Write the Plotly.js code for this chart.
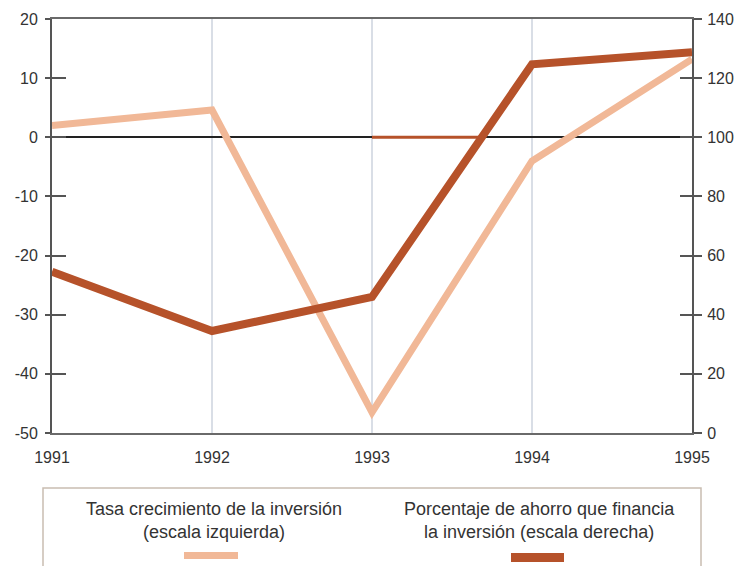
<!DOCTYPE html>
<html>
<head>
<meta charset="utf-8">
<script src="https://cdn.plot.ly/plotly-3.0.1.min.js"></script>
<style>
  html, body { margin: 0; padding: 0; background: #ffffff; }
  #chart { width: 739px; height: 566px; }
</style>
</head>
<body>
<div id="chart"></div>
<script>
// Years on the horizontal axis
const years = [1991, 1992, 1993, 1994, 1995];

// Investment growth rate (%, left scale)
const tasaInversion = [2, 4.6, -46.5, -4, 13.2];

// Share of investment financed by savings (%, right scale)
const ahorroFinancia = [54.5, 34.5, 46, 124.7, 128.8];

// Axis tick values and labels (plain hyphen for negatives)
const leftTicks = [-50, -40, -30, -20, -10, 0, 10, 20];
const leftTickText = ['-50', '-40', '-30', '-20', '-10', '0', '10', '20'];
const rightTicks = [0, 20, 40, 60, 80, 100, 120, 140];
const yearLabels = ['1991', '1992', '1993', '1994', '1995'];

const serieLabels = [
  'Tasa crecimiento de la inversión<br>(escala izquierda)',
  'Porcentaje de ahorro que financia<br>la inversión (escala derecha)'
];

const colorClaro = '#f1b897';
const colorOscuro = '#b6522a';
const axisColor = '#555555';
const textColor = '#333333';
const font = 'Liberation Sans, Arial, Helvetica, sans-serif';

const traces = [
  {
    x: years, y: tasaInversion, yaxis: 'y', type: 'scatter', mode: 'lines',
    line: { color: colorClaro, width: 7 }, showlegend: false, hoverinfo: 'skip'
  },
  {
    x: years, y: ahorroFinancia, yaxis: 'y2', type: 'scatter', mode: 'lines',
    line: { color: colorOscuro, width: 8 }, showlegend: false, hoverinfo: 'skip'
  },
  // empty traces so the inner-tick axes get drawn
  { x: [], y: [], yaxis: 'y3', type: 'scatter', mode: 'lines', showlegend: false, hoverinfo: 'skip' },
  { x: [], y: [], yaxis: 'y4', type: 'scatter', mode: 'lines', showlegend: false, hoverinfo: 'skip' }
];

// Point where the savings line crosses 100 (drawn over the zero line in brown)
const i0 = 2, i1 = 3;
const cruce = years[i0] + (100 - ahorroFinancia[i0]) / (ahorroFinancia[i1] - ahorroFinancia[i0]);

// Plot area in pixels, used to place the key below it
const L = 52, R = 692, T = 19, B = 433;
const px = v => (v - L) / (R - L);
const py = v => (B - v) / (B - T);

const layout = {
  width: 739, height: 566,
  margin: { l: L, r: 739 - R, t: T, b: 566 - B },
  paper_bgcolor: '#ffffff', plot_bgcolor: '#ffffff',
  font: { family: font, color: textColor, size: 16 },
  showlegend: false,
  xaxis: {
    range: [1991, 1995], tickvals: years, ticktext: yearLabels,
    showgrid: true, gridcolor: '#d9dee6', gridwidth: 2,
    showline: true, linecolor: '#6a6a6a', linewidth: 2, mirror: true,
    ticks: '', zeroline: false, fixedrange: true,
    tickfont: { size: 16, color: textColor }, ticklabelstandoff: 9
  },
  yaxis: {
    range: [-50, 20], tickvals: leftTicks, ticktext: leftTickText, showgrid: false,
    zeroline: true, zerolinecolor: '#222222', zerolinewidth: 2,
    showline: true, linecolor: axisColor, linewidth: 2,
    ticks: 'outside', ticklen: 5, tickwidth: 2, tickcolor: axisColor,
    tickfont: { size: 16, color: textColor }, ticklabelstandoff: 4
  },
  yaxis3: {
    range: [-50, 20], tickvals: leftTicks, overlaying: 'y', side: 'left',
    anchor: 'x', showgrid: false, zeroline: false, showline: false,
    ticks: 'inside', ticklen: 14, tickwidth: 2, tickcolor: axisColor,
    showticklabels: false
  },
  yaxis2: {
    range: [0, 140], tickvals: rightTicks, overlaying: 'y', side: 'right',
    anchor: 'x', showgrid: false, zeroline: false,
    showline: true, linecolor: axisColor, linewidth: 2,
    ticks: 'outside', ticklen: 8, tickwidth: 2, tickcolor: axisColor,
    tickfont: { size: 16, color: textColor }, ticklabelstandoff: 2
  },
  yaxis4: {
    range: [0, 140], tickvals: rightTicks, overlaying: 'y', side: 'right',
    anchor: 'x', showgrid: false, zeroline: false, showline: false,
    ticks: 'inside', ticklen: 12, tickwidth: 2, tickcolor: axisColor,
    showticklabels: false
  },
  shapes: [
    // brown stretch of the zero line
    { type: 'line', xref: 'x', yref: 'y', x0: 1993, x1: cruce, y0: 0, y1: 0,
      line: { color: colorOscuro, width: 3 }, layer: 'above' },
    // key frame
    { type: 'rect', xref: 'paper', yref: 'paper',
      x0: px(43), x1: px(701), y0: py(488), y1: py(600),
      line: { color: '#c9bdb1', width: 1.5 }, fillcolor: 'rgba(0,0,0,0)' },
    // key swatches
    { type: 'rect', xref: 'paper', yref: 'paper',
      x0: px(184), x1: px(238), y0: py(552), y1: py(559),
      line: { width: 0 }, fillcolor: colorClaro },
    { type: 'rect', xref: 'paper', yref: 'paper',
      x0: px(511), x1: px(564), y0: py(553), y1: py(562),
      line: { width: 0 }, fillcolor: colorOscuro }
  ],
  annotations: [
    { xref: 'paper', yref: 'paper', x: px(214), y: py(520), text: serieLabels[0],
      showarrow: false, align: 'center', xanchor: 'center', yanchor: 'middle',
      font: { size: 18, color: textColor, family: font } },
    { xref: 'paper', yref: 'paper', x: px(539), y: py(520), text: serieLabels[1],
      showarrow: false, align: 'center', xanchor: 'center', yanchor: 'middle',
      font: { size: 18, color: textColor, family: font } }
  ]
};

Plotly.newPlot('chart', traces, layout, { displayModeBar: false, staticPlot: true });
</script>
</body>
</html>
